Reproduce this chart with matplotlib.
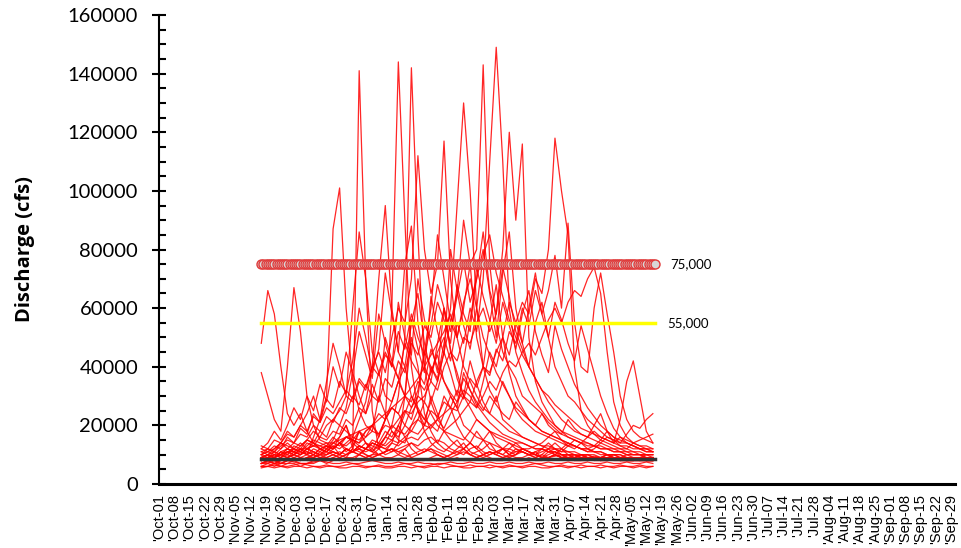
import numpy as np
import matplotlib.pyplot as plt
from matplotlib.ticker import MultipleLocator

# Water-year axis: day 0 = Oct-01, weekly labels through Sep-29 (leap year)
WEEK_LABELS = [
    "'Oct-01", "'Oct-08", "'Oct-15", "'Oct-22", "'Oct-29",
    "'Nov-05", "'Nov-12", "'Nov-19", "'Nov-26",
    "'Dec-03", "'Dec-10", "'Dec-17", "'Dec-24", "'Dec-31",
    "'Jan-07", "'Jan-14", "'Jan-21", "'Jan-28",
    "'Feb-04", "'Feb-11", "'Feb-18", "'Feb-25",
    "'Mar-03", "'Mar-10", "'Mar-17", "'Mar-24", "'Mar-31",
    "'Apr-07", "'Apr-14", "'Apr-21", "'Apr-28",
    "'May-05", "'May-12", "'May-19", "'May-26",
    "'Jun-02", "'Jun-09", "'Jun-16", "'Jun-23", "'Jun-30",
    "'Jul-07", "'Jul-14", "'Jul-21", "'Jul-28",
    "'Aug-04", "'Aug-11", "'Aug-18", "'Aug-25",
    "'Sep-01", "'Sep-08", "'Sep-15", "'Sep-22", "'Sep-29",
]

# season window (day of water year) and sampling step of the flow records
SEASON_START = 47
SEASON_END = 228
STEP_DAYS = 3

# thresholds (cfs)
UPPER_THRESHOLD = 75000
LOWER_THRESHOLD = 55000
BASE_FLOW = 8600

# discharge records, kcfs, every STEP_DAYS from SEASON_START
yr01 = [48, 66, 58, 40, 24, 20, 24, 18, 14, 12, 11, 13, 10, 9, 12, 18, 14, 11, 10, 9,
        9, 10, 12, 9, 8, 8, 9, 10, 9, 8, 9, 8, 8, 9, 10, 9, 8, 8, 9, 8,
        8, 9, 8, 8, 9, 10, 9, 8, 8, 8, 9, 8, 8, 9, 8, 8, 9, 8, 9, 8, 9]
yr02 = [38, 30, 22, 18, 40, 67, 52, 30, 20, 15, 14, 12, 16, 20, 14, 12, 11, 12, 10, 11,
        14, 20, 16, 12, 10, 11, 12, 10, 9, 10, 12, 14, 11, 10, 9, 10, 11, 12, 10, 9,
        9, 10, 11, 9, 9, 10, 9, 9, 8, 9, 10, 9, 8, 9, 9, 8, 9, 9, 8, 9, 9]
yr03 = [12, 11, 10, 12, 14, 12, 11, 10, 16, 22, 30, 87, 101, 60, 35, 25, 20, 18, 30, 24,
        18, 15, 14, 20, 25, 18, 14, 12, 11, 13, 15, 12, 10, 11, 12, 14, 11, 10, 9, 10,
        12, 11, 10, 9, 10, 11, 9, 9, 10, 9, 8, 9, 9, 10, 9, 8, 9, 9, 8, 9, 9]
yr04 = [9, 10, 9, 11, 10, 12, 14, 12, 11, 10, 12, 14, 16, 20, 12, 141, 70, 25, 12, 10,
        11, 14, 30, 50, 40, 24, 18, 14, 12, 11, 10, 12, 14, 12, 10, 11, 10, 9, 10, 12,
        11, 10, 9, 10, 12, 14, 12, 10, 9, 10, 9, 8, 9, 10, 9, 9, 8, 8, 9, 8, 9]
yr05 = [8, 9, 10, 9, 11, 10, 12, 10, 9, 11, 10, 12, 14, 11, 13, 18, 14, 12, 16, 22,
        60, 144, 90, 40, 25, 20, 30, 24, 18, 15, 13, 12, 14, 18, 15, 12, 11, 10, 12, 14,
        12, 11, 10, 9, 11, 12, 10, 9, 9, 10, 9, 9, 8, 9, 10, 9, 8, 9, 9, 8, 8]
yr06 = [7, 8, 7, 8, 9, 8, 8, 9, 10, 9, 8, 9, 10, 12, 11, 10, 12, 14, 13, 16,
        20, 30, 50, 142, 85, 40, 28, 22, 30, 26, 20, 16, 14, 12, 15, 18, 14, 12, 11, 10,
        12, 11, 10, 11, 12, 10, 9, 10, 9, 9, 8, 9, 8, 8, 9, 9, 8, 9, 8, 8, 8]
yr07 = [8, 9, 9, 10, 9, 10, 11, 10, 12, 11, 13, 12, 14, 16, 15, 18, 16, 20, 24, 22,
        28, 35, 30, 26, 32, 45, 40, 36, 48, 60, 95, 130, 100, 60, 40, 32, 28, 35, 30, 25,
        22, 20, 18, 17, 16, 15, 14, 13, 13, 12, 12, 11, 11, 10, 10, 10, 9, 9, 9, 9, 9]
yr08 = [7, 8, 8, 7, 8, 9, 8, 9, 10, 9, 10, 11, 10, 12, 11, 13, 12, 15, 14, 18,
        16, 20, 25, 22, 30, 28, 40, 35, 45, 55, 50, 60, 75, 80, 143, 75, 55, 45, 40, 36,
        30, 28, 26, 24, 20, 18, 17, 16, 15, 14, 13, 13, 12, 12, 11, 11, 10, 10, 10, 9, 9]
yr09 = [10, 9, 11, 10, 12, 11, 10, 12, 13, 12, 11, 14, 13, 16, 15, 14, 18, 20, 17, 22,
        26, 24, 30, 28, 35, 32, 38, 45, 50, 42, 55, 48, 60, 52, 70, 110, 149, 110, 60, 45,
        38, 32, 28, 25, 22, 20, 18, 17, 16, 15, 14, 13, 13, 12, 12, 11, 11, 10, 10, 10, 10]
yr10 = [9, 10, 9, 10, 11, 10, 12, 11, 10, 12, 13, 12, 14, 13, 15, 14, 16, 18, 17, 20,
        19, 22, 25, 24, 28, 30, 35, 32, 40, 45, 42, 50, 48, 55, 60, 52, 58, 80, 120, 90,
        116, 50, 35, 28, 24, 20, 18, 16, 15, 14, 14, 13, 12, 12, 11, 11, 10, 10, 10, 9, 9]
yr11 = [8, 8, 9, 8, 9, 10, 9, 10, 11, 10, 12, 11, 10, 12, 11, 13, 12, 11, 14, 13,
        15, 14, 16, 18, 17, 20, 19, 22, 24, 26, 25, 30, 28, 35, 40, 38, 45, 50, 44, 55,
        62, 58, 70, 65, 80, 118, 100, 85, 40, 25, 20, 17, 15, 14, 13, 12, 12, 11, 11, 10, 10]
yr12 = [9, 10, 11, 10, 12, 14, 13, 15, 18, 16, 20, 22, 25, 30, 28, 35, 32, 40, 45, 38,
        50, 60, 55, 70, 112, 80, 65, 75, 117, 70, 50, 40, 35, 30, 26, 24, 22, 20, 18, 17,
        16, 15, 14, 13, 13, 12, 12, 11, 11, 10, 10, 10, 9, 9, 9, 9, 9, 8, 8, 8, 8]
yr13 = [10, 12, 11, 14, 18, 16, 20, 24, 30, 22, 35, 48, 40, 30, 60, 86, 70, 45, 38, 30,
        28, 35, 40, 30, 25, 22, 20, 18, 24, 30, 26, 20, 18, 16, 15, 14, 13, 12, 12, 11,
        11, 10, 10, 9, 9, 10, 9, 9, 8, 8, 8, 9, 8, 8, 9, 8, 8, 8, 9, 8, 8]
yr14 = [9, 8, 9, 10, 9, 11, 10, 12, 14, 13, 12, 15, 20, 18, 16, 22, 28, 40, 70, 95,
        60, 45, 75, 88, 55, 40, 35, 48, 60, 45, 38, 30, 26, 22, 20, 18, 17, 16, 15, 14,
        14, 13, 12, 12, 11, 11, 10, 10, 10, 9, 9, 9, 9, 8, 9, 9, 8, 8, 9, 8, 9]
yr15 = [6, 6, 7, 6, 7, 7, 6, 7, 7, 8, 7, 8, 9, 8, 8, 10, 9, 10, 12, 14,
        18, 16, 20, 26, 30, 45, 60, 85, 70, 55, 65, 90, 75, 50, 40, 55, 68, 50, 38, 30,
        26, 22, 20, 18, 17, 16, 15, 14, 13, 12, 11, 11, 10, 10, 10, 9, 9, 9, 9, 8, 8]
yr16 = [11, 10, 12, 14, 12, 11, 13, 15, 14, 12, 13, 16, 14, 12, 11, 12, 14, 13, 12, 16,
        20, 18, 24, 30, 26, 22, 28, 35, 45, 38, 30, 42, 56, 70, 80, 65, 50, 72, 86, 60,
        48, 40, 55, 62, 50, 40, 35, 30, 28, 25, 22, 20, 18, 16, 15, 14, 14, 13, 12, 12, 11]
yr17 = [7, 7, 8, 7, 8, 8, 9, 8, 8, 9, 9, 10, 9, 10, 11, 10, 12, 11, 13, 12,
        14, 13, 15, 16, 15, 18, 20, 22, 19, 24, 28, 32, 30, 26, 35, 45, 40, 50, 62, 55,
        48, 60, 72, 58, 66, 78, 60, 89, 55, 40, 38, 60, 72, 58, 45, 30, 22, 18, 16, 15, 14]
yr18 = [6, 7, 6, 7, 7, 8, 7, 7, 8, 8, 8, 9, 8, 9, 9, 10, 9, 10, 10, 11,
        12, 11, 12, 14, 13, 15, 16, 14, 18, 20, 22, 25, 28, 26, 30, 35, 32, 38, 42, 40,
        45, 48, 44, 50, 56, 60, 55, 62, 66, 64, 70, 74, 65, 45, 28, 20, 16, 14, 13, 12, 12]
yr19 = [8, 9, 8, 9, 10, 9, 10, 11, 10, 12, 11, 13, 12, 14, 16, 15, 18, 20, 16, 22,
        26, 24, 20, 18, 22, 28, 24, 20, 18, 17, 16, 15, 18, 22, 20, 18, 16, 15, 14, 13,
        12, 12, 13, 14, 16, 18, 15, 13, 12, 14, 16, 20, 24, 18, 14, 22, 35, 42, 30, 18, 14]
yr20 = [10, 11, 12, 14, 13, 12, 11, 13, 15, 14, 13, 12, 14, 16, 15, 13, 12, 14, 13, 12,
        11, 12, 13, 14, 12, 11, 13, 15, 14, 12, 11, 10, 12, 13, 11, 10, 11, 12, 10, 11,
        12, 11, 10, 12, 14, 12, 11, 13, 15, 14, 12, 13, 15, 18, 16, 14, 17, 20, 19, 22, 24]
yr21 = [9, 10, 9, 11, 12, 11, 10, 12, 11, 10, 9, 10, 11, 10, 12, 11, 10, 9, 10, 11,
        12, 10, 9, 10, 11, 12, 11, 10, 9, 10, 11, 12, 10, 9, 10, 11, 10, 12, 14, 12,
        11, 10, 11, 12, 11, 10, 12, 14, 13, 12, 11, 12, 14, 16, 15, 13, 12, 14, 15, 16, 17]
yr22 = [6, 6, 6.5, 6, 6, 6.5, 7, 6.5, 6, 6, 6.5, 6, 6, 6.5, 7, 6.5, 6, 6, 6.5, 6,
        6, 6.5, 7, 6.5, 6, 6, 6.5, 7, 7, 6.5, 6, 6, 6.5, 6, 6, 6.5, 6, 6, 6.5, 6,
        6, 6.5, 7, 6.5, 6, 6, 6.5, 6, 6, 6.5, 6, 6, 6.5, 6, 6, 6.5, 6, 6, 6.5, 6, 6]
yr23 = [7, 7.5, 7, 7, 8, 7.5, 7, 7, 7.5, 8, 7.5, 7, 7, 7.5, 7, 7, 7.5, 8, 7.5, 7,
        7, 7.5, 7, 7, 7.5, 7, 7, 6.5, 7, 7.5, 7, 7, 7.5, 7, 7, 7.5, 7, 7, 7.5, 7,
        7, 7.5, 7, 7, 7.5, 7, 7, 7.5, 7, 7, 7.5, 7, 7, 7.5, 7, 7, 7.5, 7, 7, 7.5, 7]
yr24 = [12, 14, 18, 15, 20, 26, 22, 30, 25, 34, 28, 40, 33, 45, 38, 52, 44, 36, 58, 48,
        40, 62, 50, 44, 70, 56, 48, 38, 60, 46, 36, 30, 42, 34, 28, 24, 30, 22, 20, 18,
        16, 15, 14, 13, 12, 12, 11, 11, 10, 10, 10, 9, 9, 9, 9, 8, 8, 8, 8, 8, 8]
yr25 = [10, 11, 13, 12, 16, 14, 19, 17, 24, 21, 29, 26, 35, 31, 42, 60, 50, 38, 46, 72,
        58, 45, 40, 55, 65, 48, 38, 44, 35, 30, 26, 38, 32, 27, 24, 21, 19, 17, 16, 15,
        14, 13, 12, 12, 11, 11, 10, 10, 10, 9, 9, 9, 9, 9, 9, 8, 8, 8, 8, 8, 8]
yr26 = [9, 10, 9, 11, 10, 13, 12, 15, 14, 18, 16, 22, 20, 26, 38, 30, 24, 34, 28, 50,
        42, 36, 30, 56, 46, 38, 64, 52, 44, 80, 66, 54, 46, 60, 50, 44, 38, 34, 30, 26,
        24, 22, 20, 18, 17, 16, 15, 14, 13, 12, 12, 11, 11, 10, 10, 10, 9, 9, 9, 9, 9]
yr27 = [11, 12, 11, 13, 15, 14, 17, 16, 20, 18, 23, 21, 26, 24, 30, 27, 34, 30, 38, 45,
        40, 52, 46, 58, 50, 44, 54, 68, 60, 52, 64, 76, 62, 70, 86, 66, 58, 74, 64, 52,
        46, 40, 36, 32, 28, 25, 22, 20, 18, 17, 16, 15, 14, 13, 12, 12, 11, 11, 10, 10, 10]
yr28 = [8, 9, 10, 9, 11, 12, 11, 14, 13, 16, 15, 18, 17, 22, 20, 26, 24, 30, 28, 36,
        33, 42, 38, 48, 44, 54, 50, 62, 56, 48, 68, 58, 52, 74, 64, 56, 48, 62, 54, 46,
        58, 66, 52, 44, 38, 54, 46, 40, 34, 30, 26, 23, 20, 18, 16, 15, 14, 13, 12, 12, 11]
yr29 = [13, 12, 15, 14, 17, 16, 20, 18, 23, 21, 26, 24, 28, 32, 29, 36, 33, 40, 37, 44,
        41, 36, 48, 42, 38, 34, 46, 40, 35, 31, 28, 36, 32, 28, 25, 30, 27, 24, 22, 28,
        25, 22, 20, 24, 21, 19, 17, 22, 19, 17, 16, 18, 16, 15, 14, 16, 15, 14, 13, 13, 12]
yr30 = [7, 8, 7, 8, 8, 9, 8, 9, 9, 10, 10, 11, 10, 12, 11, 13, 12, 14, 13, 16,
        15, 18, 17, 20, 22, 20, 25, 23, 28, 26, 32, 29, 36, 33, 40, 37, 46, 42, 52, 48,
        60, 54, 66, 58, 50, 62, 56, 48, 42, 54, 46, 38, 30, 24, 19, 16, 14, 13, 12, 11, 11]
yr31 = [9, 9, 10, 10, 11, 11, 12, 12, 13, 13, 14, 14, 15, 16, 17, 18, 19, 20, 22, 24,
        26, 28, 30, 33, 36, 40, 44, 48, 52, 58, 50, 62, 70, 60, 78, 85, 72, 64, 56, 50,
        44, 40, 36, 32, 30, 27, 25, 23, 21, 19, 18, 17, 16, 15, 14, 13, 13, 12, 12, 11, 11]
yr32 = [5.5, 6, 5.5, 6, 5.5, 6, 6, 5.5, 6, 5.5, 6, 6, 5.5, 5.5, 6, 6, 5.5, 6, 6, 5.5,
        5.5, 6, 6, 5.5, 6, 5.5, 6, 6, 5.5, 6, 6, 5.5, 5.5, 6, 6, 5.5, 6, 5.5, 6, 6,
        5.5, 6, 6, 5.5, 5.5, 6, 6, 5.5, 6, 5.5, 6, 6, 5.5, 6, 5.5, 6, 6, 5.5, 6, 5.5, 6]
yr33 = [8, 9, 8, 8.5, 9, 10, 9, 8.5, 9, 10, 11, 10, 9, 10, 11, 12, 10, 9, 10, 11,
        12, 11, 10, 9, 10, 11, 12, 11, 10, 9, 10, 11, 10, 9, 10, 11, 10, 9, 9.5, 10,
        11, 10, 9, 10, 9, 9.5, 10, 9, 9, 10, 9, 9.5, 9, 10, 9, 9, 10, 9, 9, 10, 9]

RECORDS = [yr01, yr02, yr03, yr04, yr05, yr06, yr07, yr08, yr09, yr10, yr11,
           yr12, yr13, yr14, yr15, yr16, yr17, yr18, yr19, yr20, yr21, yr22,
           yr23, yr24, yr25, yr26, yr27, yr28, yr29, yr30, yr31, yr32, yr33]


def main() -> None:
    fig = plt.figure(figsize=(9.61, 5.48), dpi=100)
    ax = fig.add_axes([0.1655, 0.1168, 0.8285, 0.8558])

    for record in RECORDS:
        days = SEASON_START + STEP_DAYS * np.arange(len(record))
        ax.plot(days, np.asarray(record) * 1000, color="#ff0000", linewidth=0.9, alpha=0.85)

    season = np.arange(SEASON_START, SEASON_END + 1)
    ax.plot(season, np.full(season.size, UPPER_THRESHOLD), color="#e03a3a",
            linewidth=1.2, marker="o", markersize=6.5, markerfacecolor="#d8d8d8",
            markeredgecolor="#e03a3a", markeredgewidth=1.0)
    ax.plot(season, np.full(season.size, LOWER_THRESHOLD), color="#ffff00", linewidth=2.5)
    ax.plot(season, np.full(season.size, BASE_FLOW), color="#333333", linewidth=2.5)

    ax.text(SEASON_END + 7, UPPER_THRESHOLD, f"{UPPER_THRESHOLD:,}", fontsize=9.5,
            family="Lato", va="center", ha="left")
    ax.text(SEASON_END + 5.5, LOWER_THRESHOLD, f"{LOWER_THRESHOLD:,}", fontsize=9.5,
            family="Lato", va="center", ha="left")

    ax.set_xlim(0, 366)
    ax.set_ylim(0, 160000)
    ax.set_xticks(np.arange(len(WEEK_LABELS)) * 7)
    ax.set_xticklabels(WEEK_LABELS, rotation=90, fontsize=10.5, family="Liberation Sans",
                       va="top", ha="center")
    ax.tick_params(axis="x", length=0, pad=7)

    ax.yaxis.set_major_locator(MultipleLocator(20000))
    ax.yaxis.set_minor_locator(MultipleLocator(5000))
    ax.tick_params(axis="y", which="major", direction="inout", length=10, width=1.5,
                   pad=10, labelsize=14.5)
    ax.tick_params(axis="y", which="minor", direction="in", length=5, width=1.5)
    for label in ax.get_yticklabels():
        label.set_family("Lato")

    ax.set_ylabel("Discharge (cfs)", fontsize=14.5, fontweight="bold", family="Open Sans",
                  labelpad=24)

    ax.spines["top"].set_visible(False)
    ax.spines["right"].set_visible(False)
    ax.spines["left"].set_linewidth(1.5)
    ax.spines["bottom"].set_linewidth(2.2)

    fig.savefig("out.png", dpi=100)


if __name__ == "__main__":
    main()
